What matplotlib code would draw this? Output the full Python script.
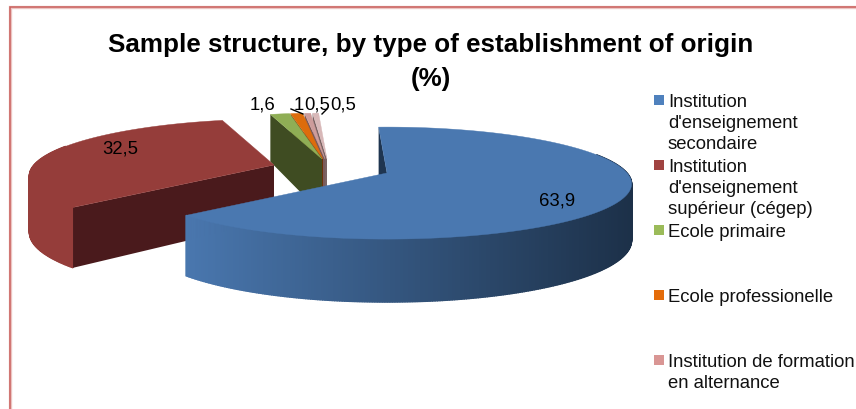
import numpy as np
import matplotlib
matplotlib.use('Agg')
import matplotlib.pyplot as plt
from matplotlib.colors import to_rgb

plt.rcParams['font.family'] = ['Liberation Sans', 'DejaVu Sans']

# chart data
categories = ["Institution\nd'enseignement\nsecondaire",
              "Institution\nd'enseignement\nsupérieur (cégep)",
              "Ecole primaire",
              "Ecole professionelle",
              "Institution de formation\nen alternance"]
values = [63.9, 32.5, 1.6, 1.0, 0.5, 0.5]
value_labels = ['63,9', '32,5', '1,6', '1', '0,5', '0,5']

top_colors = ['#4a78b0', '#953d3a', '#8fae55', '#dd6c0c', '#cd9c9b', '#d8b8b8']
wall_colors = ['#1f3550', '#4a1a1c', '#3f4c22', '#6b3208', '#7a5a5a', '#7a6464']
legend_colors = ['#4f81bd', '#a04341', '#9bbb59', '#e46c0a', '#d99694']

# apex of each exploded slice, pixels
apex = [(387, 174), (274, 166), (322, 160), (323, 160), (325, 160), (327, 160)]
start_angle = -2.5

fig = plt.figure(figsize=(8.56, 4.10), dpi=100)
ax = fig.add_axes([0, 0, 1, 1])
ax.set_xlim(0, 856)
ax.set_ylim(410, 0)
ax.axis('off')


def project(center, theta):
    # flat disk seen in perspective, back is squeezed
    t = np.radians(theta)
    u, v = np.sin(t), np.cos(t)
    x = center[0] + 240 * u * (1 - 0.2 * v)
    y = center[1] - 56 * v * (1 - 0.18 * v)
    return x, y


def depth(theta):
    return 55 - 8 * np.cos(np.radians(theta))


def draw_slice(i, a0, a1, z):
    c = apex[i]
    th = np.linspace(a0, a1, max(int(a1 - a0) * 2, 4))
    xs, ys = project(c, th)
    dep = depth(th)

    # outer wall, only the part facing us
    for k in range(len(th) - 1):
        if np.cos(np.radians(th[k])) < 0.35:
            if i == 0:
                f = np.clip((633 - xs[k]) / 453, 0, 1)
                col = np.array(to_rgb('#1c3048')) * (1 - f) + np.array(to_rgb('#4a78b0')) * f
            else:
                col = top_colors[i]
            ax.fill([xs[k], xs[k + 1], xs[k + 1], xs[k]],
                    [ys[k], ys[k + 1], ys[k + 1] + dep[k + 1], ys[k] + dep[k]],
                    color=col, lw=1, zorder=z)

    # straight wall at the start edge
    ax.fill([xs[0], c[0], c[0], xs[0]],
            [ys[0], c[1], c[1] + depth(90), ys[0] + depth(a0)],
            color=wall_colors[i], lw=0, zorder=z + 0.1)

    # top face
    ax.fill(np.r_[c[0], xs], np.r_[c[1], ys], color=top_colors[i], lw=0.3, zorder=z + 0.2)


spans = []
a = start_angle
for v in values:
    spans.append((a, a + v * 3.6))
    a += v * 3.6

# back to front, blue ends up over everything
for z, i in enumerate([5, 4, 3, 2, 1, 0]):
    draw_slice(i, spans[i][0], spans[i][1], 2 + z)

ax.text(431, 62, 'Sample structure, by type of establishment of origin\n(%)',
        ha='center', va='center', fontsize=18.75, fontweight='bold',
        linespacing=1.5, color='black')

# data labels
label_pos = [(557, 201), (120, 149), (263, 105), (299, 105), (317, 105), (343, 105)]
for s, p in zip(value_labels, label_pos):
    ax.text(p[0], p[1], s, ha='center', va='center', fontsize=13.3, color='black', zorder=20)
ax.plot([291, 303], [110, 115], color='black', lw=1, zorder=20)
ax.plot([327, 322], [110, 115], color='black', lw=1, zorder=20)

# legend
legend_y = [101, 166, 231, 296, 361]
for name, col, y in zip(categories, legend_colors, legend_y):
    ax.fill([654, 664, 664, 654], [y - 5, y - 5, y + 5, y + 5], color=col, lw=0)
    ax.text(668, y - 7, name, ha='left', va='top', fontsize=13.3, linespacing=1.29, color='#111111')

# border of the original chart area, only top and left are in the crop
for col, w in [('#ecc4c2', 2.4), ('#c9605d', 1.1)]:
    ax.plot([856, 10, 10], [8, 8, 410], color=col, lw=w, solid_joinstyle='miter', zorder=1)

fig.savefig('out.png', dpi=100)
